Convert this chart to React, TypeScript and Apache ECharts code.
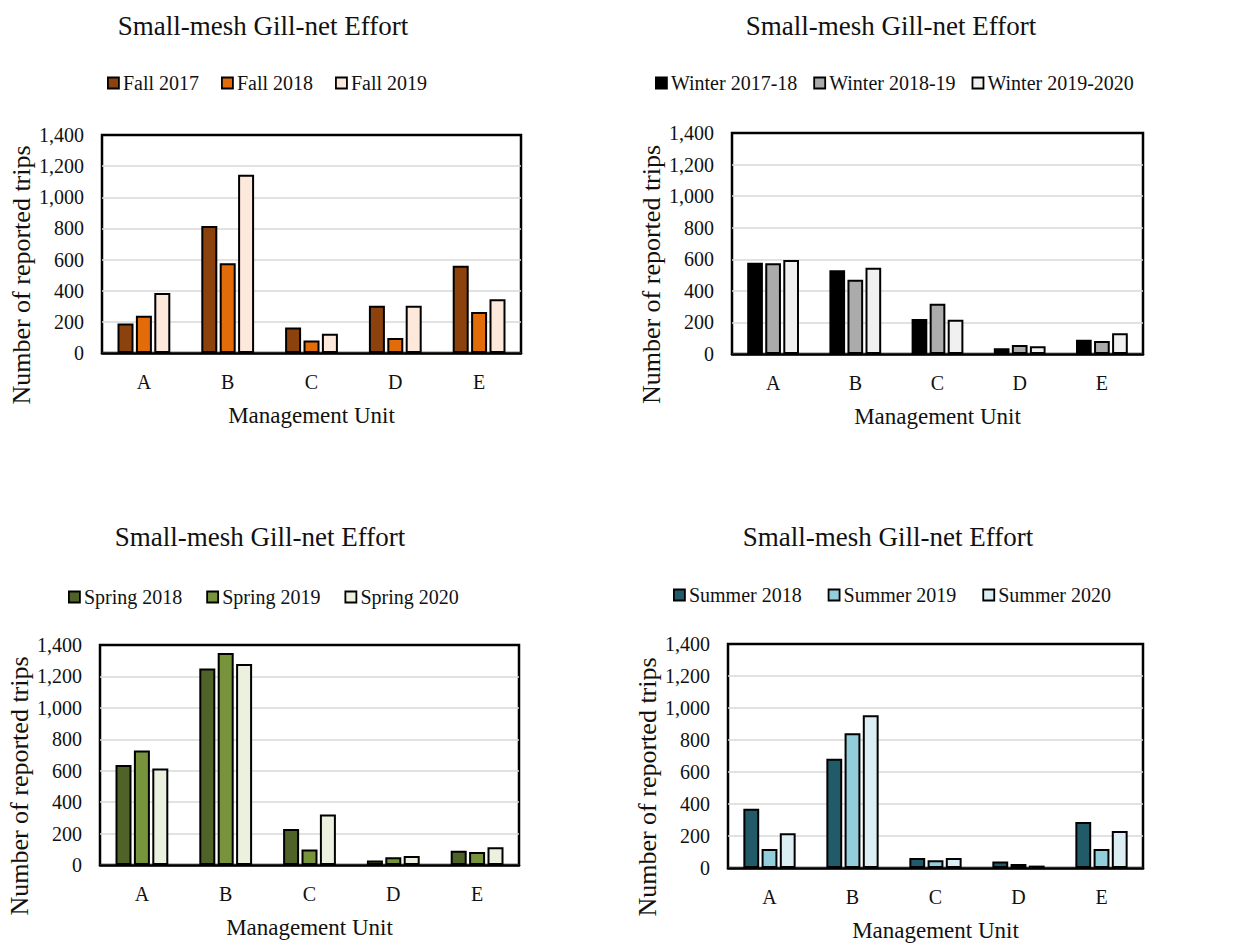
import React, { useEffect, useRef } from "react";
import * as echarts from "echarts";

const categories = ["A", "B", "C", "D", "E"];
const yTickValues = [0, 200, 400, 600, 800, 1000, 1200, 1400];
const chartTitle = "Small-mesh Gill-net Effort";
const xName = "Management Unit";
const yName = "Number of reported trips";

const fallNames = ["Fall 2017", "Fall 2018", "Fall 2019"];
const fall2017 = [190, 815, 163, 304, 560];
const fall2018 = [240, 577, 81, 96, 264];
const fall2019 = [386, 1145, 124, 304, 345];

const winterNames = ["Winter 2017-18", "Winter 2018-19", "Winter 2019-2020"];
const winter1718 = [578, 530, 222, 36, 91];
const winter1819 = [575, 471, 319, 57, 82];
const winter1920 = [595, 547, 217, 49, 131];

const springNames = ["Spring 2018", "Spring 2019", "Spring 2020"];
const spring2018 = [637, 1251, 229, 28, 91];
const spring2019 = [729, 1349, 98, 49, 83];
const spring2020 = [614, 1279, 321, 57, 113];

const summerNames = ["Summer 2018", "Summer 2019", "Summer 2020"];
const summer2018 = [370, 683, 63, 40, 288];
const summer2019 = [119, 842, 48, 25, 119];
const summer2020 = [217, 955, 63, 15, 232];

const FONT = "'Liberation Serif', 'Times New Roman', serif";

const panels = [
  {
    names: fallNames,
    data: [fall2017, fall2018, fall2019],
    colors: ["#8B420C", "#E36C0A", "#FDE9DC"],
    grid: { left: 102, top: 135, width: 419, height: 218 },
    titleX: 263, titleY: 12, legendX: 107, legendY: 73, legendGap: 22,
  },
  {
    names: winterNames,
    data: [winter1718, winter1819, winter1920],
    colors: ["#000000", "#ABABAB", "#F0F0F0"],
    grid: { left: 732, top: 133, width: 411, height: 221 },
    titleX: 891, titleY: 12, legendX: 655, legendY: 73, legendGap: 16,
  },
  {
    names: springNames,
    data: [spring2018, spring2019, spring2020],
    colors: ["#4F6228", "#77933C", "#EBF1DE"],
    grid: { left: 100, top: 645, width: 419, height: 220 },
    titleX: 260, titleY: 523, legendX: 68, legendY: 587, legendGap: 24,
  },
  {
    names: summerNames,
    data: [summer2018, summer2019, summer2020],
    colors: ["#215A69", "#92CDDC", "#DAEEF3"],
    grid: { left: 728, top: 644, width: 415, height: 224 },
    titleX: 888, titleY: 523, legendX: 673, legendY: 585, legendGap: 26,
  },
];

// grid line colours, bottom to top; the top one coincides with the black frame
const splitColors = yTickValues.map((_, i) => (i === yTickValues.length - 1 ? "#000000" : "#d9d9d9"));

export default function App() {
  const ref = useRef<HTMLDivElement>(null);
  useEffect(() => {
    document.body.style.margin = "0";
    if (!ref.current) return;
    const chart = echarts.init(ref.current, null, { renderer: "svg" });
    const option: any = {
      animation: false,
      backgroundColor: "#ffffff",
      title: panels.map((p) => ({
        text: chartTitle,
        left: p.titleX,
        top: p.titleY,
        textAlign: "center",
        padding: 0,
        textStyle: { fontFamily: FONT, fontSize: 27, fontWeight: "normal", color: "#111" },
      })),
      legend: panels.map((p) => ({
        data: p.names,
        left: p.legendX,
        top: p.legendY,
        padding: 0,
        itemWidth: 11,
        itemHeight: 11,
        itemGap: p.legendGap,
        icon: "rect",
        itemStyle: { borderColor: "#000", borderWidth: 1.8 },
        textStyle: { fontFamily: FONT, fontSize: 20, color: "#111", padding: [0, 0, 0, -1] },
      })),
      grid: panels.map((p) => ({
        ...p.grid,
        show: true,
        borderColor: "#000",
        borderWidth: 2.5,
        backgroundColor: "transparent",
        containLabel: false,
      })),
      xAxis: panels.map((p, i) => ({
        type: "category",
        gridIndex: i,
        data: categories,
        name: xName,
        nameLocation: "middle",
        nameGap: 51,
        nameTextStyle: { fontFamily: FONT, fontSize: 23, color: "#111" },
        axisLine: { show: true, lineStyle: { color: "#000", width: 2.5 } },
        axisTick: { show: false },
        axisLabel: { fontFamily: FONT, fontSize: 20, color: "#111", margin: 19 },
      })),
      yAxis: panels.map((p, i) => ({
        type: "value",
        gridIndex: i,
        min: yTickValues[0],
        max: yTickValues[yTickValues.length - 1],
        interval: yTickValues[1] - yTickValues[0],
        name: yName,
        nameLocation: "middle",
        nameGap: 68,
        nameTextStyle: { fontFamily: FONT, fontSize: 26, color: "#111", padding: [0, 62, 0, 0] },
        axisLine: { show: false },
        axisTick: { show: false },
        splitLine: { show: true, lineStyle: { color: splitColors, width: 1.5 } },
        axisLabel: {
          fontFamily: FONT,
          fontSize: 20,
          color: "#111",
          margin: 18,
          formatter: (v: number) => v.toLocaleString("en-US"),
        },
      })),
      series: panels.flatMap((p, i) =>
        p.names.map((name, k) => ({
          type: "bar",
          name,
          xAxisIndex: i,
          yAxisIndex: i,
          data: p.data[k],
          barCategoryGap: "37%",
          barGap: "15%",
          itemStyle: { color: p.colors[k], borderColor: "#000", borderWidth: 2 },
        }))
      ),
    };
    chart.setOption(option);
    return () => chart.dispose();
  }, []);
  return <div ref={ref} style={{ width: 1257, height: 947 }} />;
}
